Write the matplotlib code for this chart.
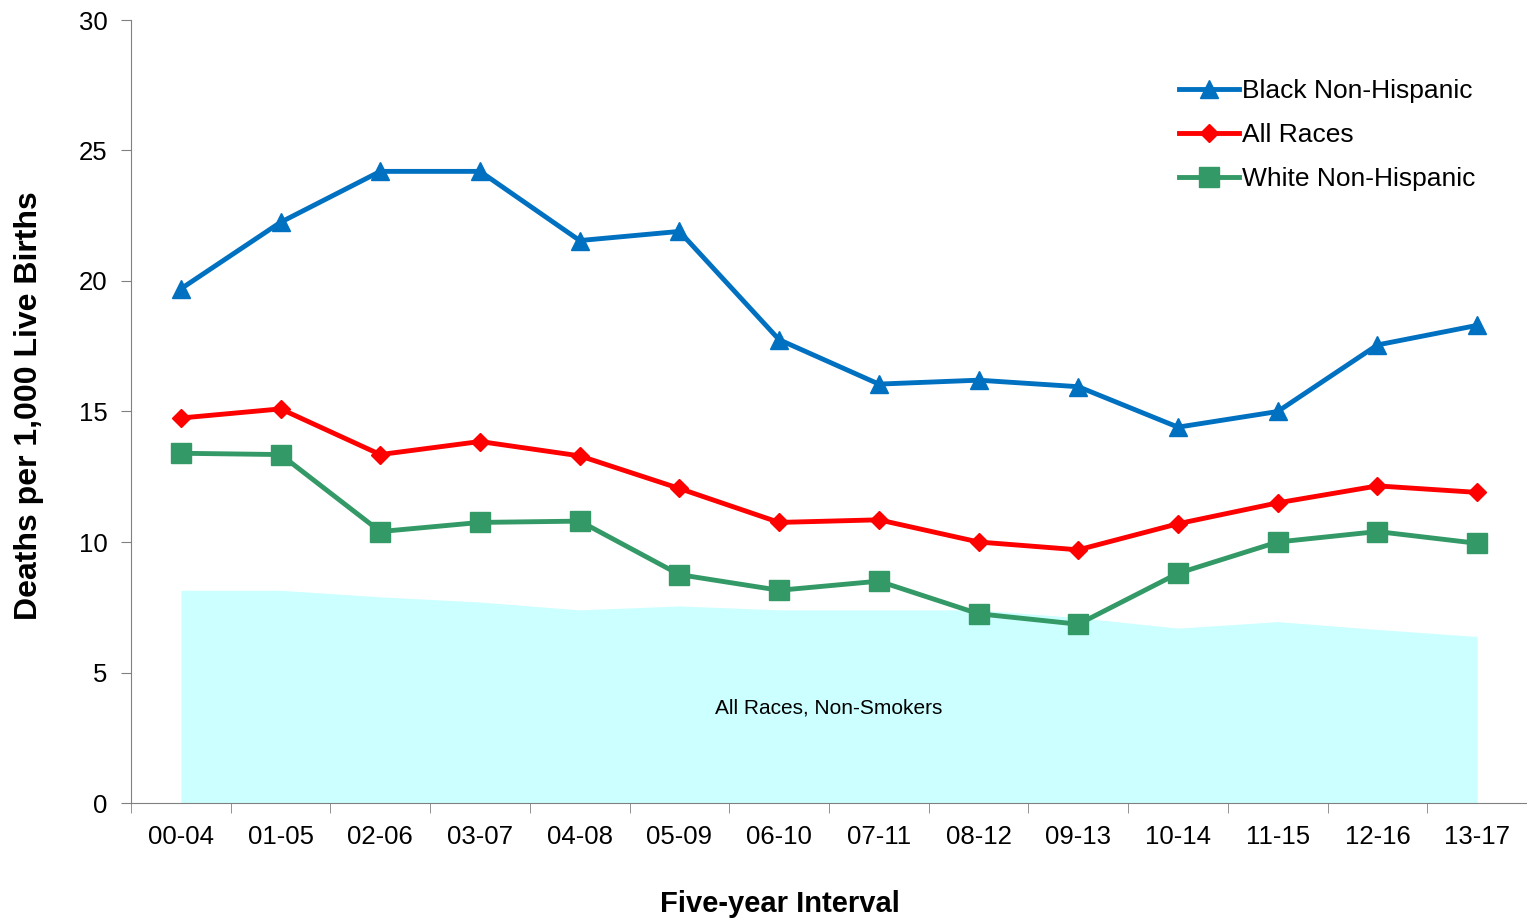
import matplotlib.pyplot as plt
import numpy as np

plt.rcParams['font.family'] = ['Liberation Sans', 'DejaVu Sans']

# 5-year intervals
intervals = ["00-04", "01-05", "02-06", "03-07", "04-08", "05-09", "06-10",
             "07-11", "08-12", "09-13", "10-14", "11-15", "12-16", "13-17"]

black_nh = [19.7, 22.25, 24.2, 24.2, 21.55, 21.9, 17.75, 16.05, 16.2, 15.95, 14.4, 15.0, 17.55, 18.3]
all_races = [14.75, 15.1, 13.35, 13.85, 13.3, 12.05, 10.75, 10.85, 10.0, 9.7, 10.7, 11.5, 12.15, 11.9]
white_nh = [13.4, 13.35, 10.4, 10.75, 10.8, 8.75, 8.15, 8.5, 7.25, 6.85, 8.8, 10.0, 10.4, 9.95]
non_smokers = [8.15, 8.15, 7.9, 7.7, 7.4, 7.55, 7.4, 7.4, 7.4, 7.1, 6.7, 6.95, 6.65, 6.38]

x = np.arange(len(intervals))

fig = plt.figure(figsize=(15.27, 9.21), dpi=100)
ax = fig.add_axes([131/1527, 1 - 803/921, 1 - 131/1527, (803 - 20)/921])

# background area for non-smokers
ax.fill_between(x, 0, non_smokers, color="#CCFFFF", linewidth=0, zorder=1)
ax.text(6.5, 3.65, "All Races, Non-Smokers", ha="center", va="center", fontsize=15, zorder=2)

ax.plot(x, black_nh, color="#0070C0", lw=3.5, marker="^", ms=13, label="Black Non-Hispanic", zorder=3)
ax.plot(x, all_races, color="#FF0000", lw=3.5, marker="D", ms=9, label="All Races", zorder=3)
ax.plot(x, white_nh, color="#339966", lw=3.5, marker="s", ms=14, label="White Non-Hispanic", zorder=3)

ax.set_xlim(-0.5, len(intervals) - 0.5)
ax.set_ylim(0, 30)
ax.set_yticks(range(0, 31, 5))
ax.set_xticks(x)
ax.set_xticklabels(intervals)
ax.set_xticks(np.arange(-0.5, len(intervals), 1), minor=True)
ax.tick_params(axis="x", which="major", length=0, pad=16, labelsize=18.5)
ax.tick_params(axis="x", which="minor", length=7, direction="out", color="#808080")
ax.tick_params(axis="y", length=7, direction="out", color="#808080", labelsize=18.5, pad=10)

for s in ["top", "right"]:
    ax.spines[s].set_visible(False)
for s in ["left", "bottom"]:
    ax.spines[s].set_color("#808080")

ax.set_ylabel("Deaths per 1,000 Live Births", fontsize=23, fontweight="bold")
ax.yaxis.set_label_coords(-0.0625, 0.508)
ax.set_xlabel("Five-year Interval", fontsize=21, fontweight="bold")
ax.xaxis.set_label_coords(0.465, -0.111)

ax.legend(loc="upper right", bbox_to_anchor=(0.98, 0.955), frameon=False, fontsize=19,
          handlelength=2.3, handletextpad=0.1, labelspacing=0.76)

fig.savefig("out.png", dpi=100)
